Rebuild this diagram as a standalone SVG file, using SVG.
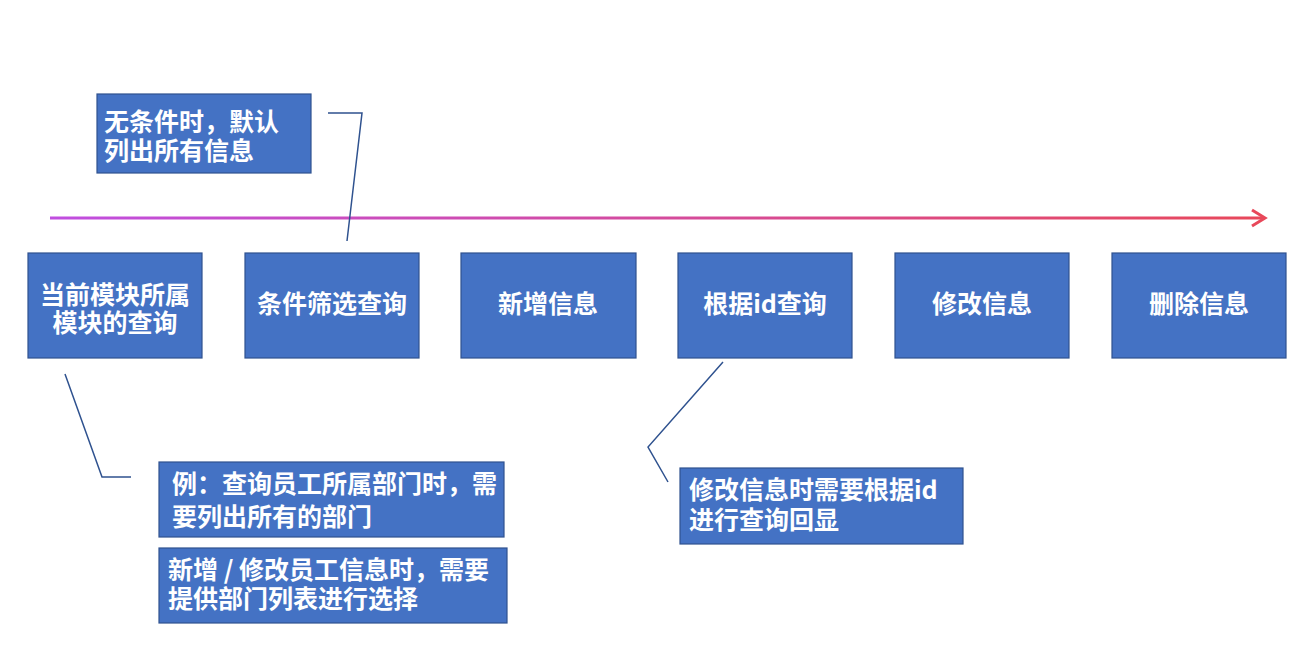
<svg xmlns="http://www.w3.org/2000/svg" width="1309" height="663" viewBox="0 0 1309 663">
<style>
.box{fill:#4472C4;stroke:#2F528F;stroke-width:1.2}
.t{font-family:"Microsoft YaHei","Noto Sans CJK SC",sans-serif;font-weight:bold;font-size:25px;fill:#fff}
.c{text-anchor:middle}
.ln{fill:none;stroke:#2F528F;stroke-width:1.5}
</style>
<defs>
<linearGradient id="g" gradientUnits="userSpaceOnUse" x1="50" y1="0" x2="1266" y2="0">
<stop offset="0" stop-color="#C04EE0"/>
<stop offset="1" stop-color="#E8485A"/>
</linearGradient>
</defs>
<rect width="1309" height="663" fill="#fff"/>
<g id="connectors">
<path d="M50 218H1264" stroke="url(#g)" stroke-width="3" fill="none"/>
<path d="M1252 210L1265 218L1252 226" stroke="#E8485A" stroke-width="3" fill="none"/>
<path class="ln" d="M328 113H362L347 241"/>
<path class="ln" d="M65 374L102 477H131"/>
<path class="ln" d="M723 362L648 447L668 482"/>
</g>
<g id="n1"><rect class="box" x="28" y="253" width="174" height="105"/><text class="t c" x="115" y="304">当前模块所属</text><text class="t c" x="115" y="332">模块的查询</text></g>
<g id="n2"><rect class="box" x="245" y="253" width="174" height="105"/><text class="t c" x="332" y="313">条件筛选查询</text></g>
<g id="n3"><rect class="box" x="461" y="253" width="175" height="105"/><text class="t c" x="548" y="313">新增信息</text></g>
<g id="n4"><rect class="box" x="678" y="253" width="174" height="105"/><text class="t c" x="765" y="313">根据id查询</text></g>
<g id="n5"><rect class="box" x="895" y="253" width="174" height="105"/><text class="t c" x="982" y="313">修改信息</text></g>
<g id="n6"><rect class="box" x="1112" y="253" width="174" height="105"/><text class="t c" x="1199" y="313">删除信息</text></g>
<g id="note1"><rect class="box" x="97" y="94" width="214" height="79"/><text class="t" x="104" y="131">无条件时，默认</text><text class="t" x="104" y="160">列出所有信息</text></g>
<g id="note2"><rect class="box" x="159" y="462" width="345" height="75"/><text class="t" x="172" y="493">例：查询员工所属部门时，需</text><text class="t" x="172" y="526">要列出所有的部门</text></g>
<g id="note3"><rect class="box" x="159" y="548" width="348" height="75"/><text class="t" x="168" y="579">新增 / 修改员工信息时，需要</text><text class="t" x="168" y="608">提供部门列表进行选择</text></g>
<g id="note4"><rect class="box" x="680" y="468" width="283" height="76"/><text class="t" x="689" y="499">修改信息时需要根据id</text><text class="t" x="689" y="529">进行查询回显</text></g>
</svg>
